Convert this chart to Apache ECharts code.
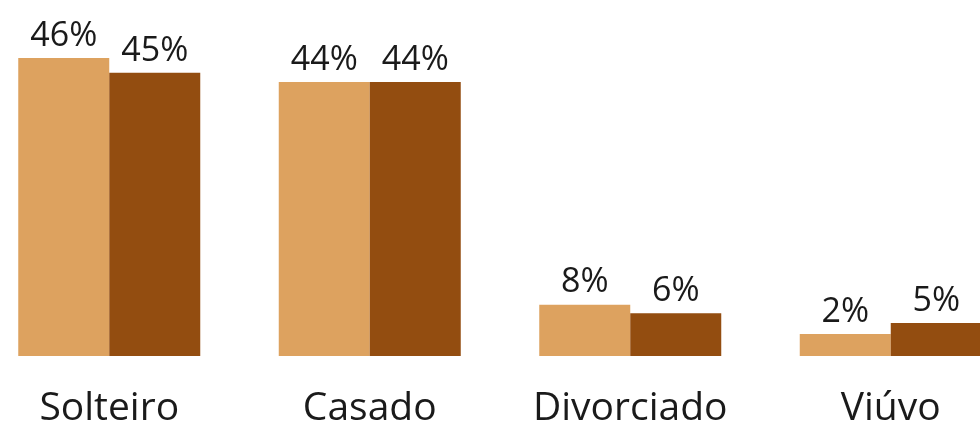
<!DOCTYPE html>
<html>
<head>
<meta charset="utf-8">
<style>
  html, body { margin: 0; padding: 0; background: #fff; }
  #chart { width: 980px; height: 429px; }
</style>
<script src="https://cdn.jsdelivr.net/npm/echarts@6/dist/echarts.min.js"></script>
</head>
<body>
<div id="chart"></div>
<script>
// categorias (estado civil)
const categories = ["Solteiro", "Casado", "Divorciado", "Viúvo"];
// alturas das barras (%)
const serieA = [46.0, 42.3, 7.9, 3.4];
const serieB = [43.7, 42.3, 6.6, 5.1];
// rótulos impressos sobre as barras
const labelsA = ["46%", "44%", "8%", "2%"];
const labelsB = ["45%", "44%", "6%", "5%"];

const FONT = "'Open Sans', sans-serif";

const chart = echarts.init(document.getElementById("chart"));

const barLabel = (labels) => ({
  show: true,
  position: "top",
  distance: 5,
  color: "#1a1a1a",
  fontFamily: FONT,
  fontSize: 34,
  formatter: (p) => labels[p.dataIndex],
});

chart.setOption({
  animation: false,
  grid: {
    left: -21, // o gráfico original está cortado nas bordas
    width: 1042,
    top: 32,
    bottom: 73,
    outerBoundsMode: "none",
  },
  xAxis: {
    type: "category",
    data: categories,
    axisLine: { show: false },
    axisTick: { show: false },
    axisLabel: {
      margin: 33,
      color: "#1a1a1a",
      fontFamily: FONT,
      fontSize: 39,
    },
  },
  yAxis: {
    type: "value",
    min: 0,
    max: 50,
    show: false,
    splitLine: { show: false },
  },
  series: [
    {
      type: "bar",
      data: serieA,
      barWidth: 91,
      barGap: "0%",
      itemStyle: { color: "#DDA25F" },
      label: barLabel(labelsA),
    },
    {
      type: "bar",
      data: serieB,
      barWidth: 91,
      barGap: "0%",
      itemStyle: { color: "#934D10" },
      label: barLabel(labelsB),
    },
  ],
});
</script>
</body>
</html>
